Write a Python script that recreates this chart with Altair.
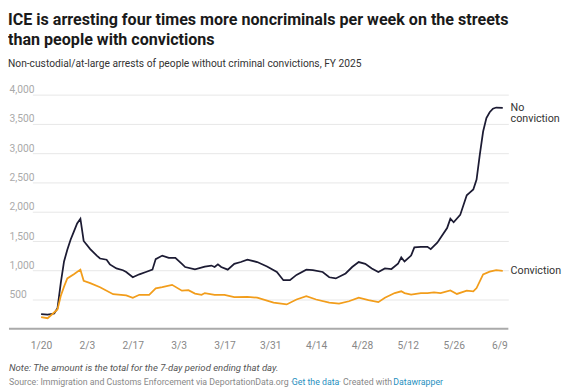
import altair as alt
import pandas as pd

# ---------------- data ----------------
no_conv_dates = [
    "01-20", "01-22", "01-24", "01-25", "01-26", "01-27", "01-28", "01-29", "01-30", "01-31",
    "02-01", "02-02", "02-04", "02-06", "02-07", "02-09", "02-10", "02-12", "02-14", "02-15",
    "02-17", "02-19", "02-21", "02-23", "02-24", "02-26", "02-28", "03-02", "03-04", "03-05",
    "03-08", "03-11", "03-13", "03-14", "03-15", "03-16", "03-18", "03-20", "03-22", "03-24",
    "03-27", "03-30", "04-02", "04-04", "04-06", "04-08", "04-11", "04-13", "04-16", "04-18",
    "04-20", "04-23", "04-25", "04-27", "04-29", "05-01", "05-03", "05-05", "05-07", "05-09",
    "05-10", "05-11", "05-13", "05-14", "05-16", "05-18", "05-19", "05-21", "05-24", "05-25",
    "05-26", "05-28", "05-30", "05-31", "06-01", "06-02", "06-03", "06-04", "06-05", "06-06",
    "06-07", "06-08", "06-10",
]
no_conv_values = [
    250, 240, 260, 350, 780, 1150, 1350, 1520, 1660, 1800,
    1880, 1500, 1360, 1250, 1200, 1180, 1100, 1030, 1000, 970,
    880, 930, 970, 1010, 1190, 1250, 1210, 1210, 1110, 1055,
    1015, 1060, 1080, 1055, 1100, 1055, 1010, 1110, 1140, 1180,
    1140, 1065, 970, 830, 830, 920, 1010, 1000, 970, 880,
    860, 945, 1055, 1140, 1110, 1030, 970, 1030, 1020, 1110,
    1220, 1150, 1250, 1390, 1400, 1400, 1360, 1470, 1720, 1880,
    1820, 1945, 2280, 2330, 2380, 2550, 2980, 3370, 3600, 3700,
    3760, 3780, 3775,
]
conv_dates = [
    "01-20", "01-22", "01-25", "01-26", "01-27", "01-28", "01-30", "02-01", "02-02", "02-04",
    "02-07", "02-11", "02-15", "02-17", "02-19", "02-22", "02-24", "02-26", "03-01", "03-04",
    "03-06", "03-08", "03-10", "03-11", "03-14", "03-17", "03-20", "03-24", "03-27", "04-01",
    "04-05", "04-08", "04-11", "04-14", "04-18", "04-21", "04-24", "04-27", "04-30", "05-03",
    "05-05", "05-08", "05-10", "05-11", "05-13", "05-16", "05-18", "05-20", "05-22", "05-25",
    "05-27", "05-30", "06-01", "06-02", "06-04", "06-06", "06-08", "06-10",
]
conv_values = [
    200, 180, 330, 560, 720, 860, 930, 1010, 820, 780,
    710, 590, 570, 530, 580, 580, 690, 710, 750, 650,
    660, 600, 580, 610, 580, 580, 540, 545, 530, 445,
    415, 500, 555, 500, 445, 430, 470, 530, 490, 455,
    530, 610, 640, 610, 585, 610, 610, 620, 610, 655,
    595, 650, 640, 695, 930, 975, 1000, 990,
]
series_names = ["No conviction", "Conviction"]
series_labels = ["No\nconviction", "Conviction"]
series_colors = ["#1c1b33", "#f29d1b"]
x_tick_dates = ["01-20", "02-03", "02-17", "03-03", "03-17", "03-31",
                "04-14", "04-28", "05-12", "05-26", "06-09"]
y_ticks = [500, 1000, 1500, 2000, 2500, 3000, 3500, 4000]

title_lines = ["ICE is arresting four times more noncriminals per week on the streets",
               "than people with convictions"]
subtitle = "Non-custodial/at-large arrests of people without criminal convictions, FY 2025"
note = "Note: The amount is the total for the 7-day period ending that day."
source_parts = ["Source: Immigration and Customs Enforcement via DeportationData.org \u00b7",
                "Get the data", "\u00b7 Created with", "Datawrapper"]

# ---------------- tables ----------------
def to_ts(md):
    return "2025-" + md + "T00:00:00"

df = pd.concat([
    pd.DataFrame({"date": [to_ts(d) for d in no_conv_dates], "value": no_conv_values,
                  "series": series_names[0]}),
    pd.DataFrame({"date": [to_ts(d) for d in conv_dates], "value": conv_values,
                  "series": series_names[1]}),
], ignore_index=True)

labels_df = pd.DataFrame({
    "date": [to_ts(no_conv_dates[-1]), to_ts(conv_dates[-1])],
    "value": [no_conv_values[-1], conv_values[-1]],
    "label": series_labels,
})
base_df = pd.DataFrame({"value": [0]})

def dt(md):
    m, d = md.split("-")
    return alt.DateTime(year=2025, month=int(m), date=int(d))

W, H = 488, 240
x_scale = alt.Scale(domain=[alt.DateTime(year=2025, month=1, date=17, hours=8),
                            alt.DateTime(year=2025, month=6, date=11, hours=17)])
y_scale = alt.Scale(domain=[0, 4000], nice=False, zero=True)

x_axis = alt.Axis(values=[dt(d) for d in x_tick_dates], format="%-m/%-d",
                  grid=False, domain=False, ticks=False, labelPadding=12,
                  labelOverlap=False, labelFlush=False,
                  labelColor="#888888", labelFontSize=10.5, labelFont="Roboto")
y_axis = alt.Axis(values=y_ticks, labelExpr="format(datum.value, ',')",
                  grid=True, gridColor="#e6e6e6",
                  domain=False, ticks=False, labelAlign="left", labelPadding=24,
                  labelBaseline="alphabetic", labelOffset=-2,
                  labelOverlap=False, labelFlush=False,
                  labelColor="#aaaaaa", labelFontSize=10.5, labelFont="Roboto")
x_enc = alt.X("date:T", scale=x_scale, title=None, axis=x_axis)
y_enc = alt.Y("value:Q", scale=y_scale, title=None, axis=y_axis)

lines = alt.Chart(df).mark_line(strokeWidth=1.8, interpolate="linear").encode(
    x=x_enc, y=y_enc,
    color=alt.Color("series:N", scale=alt.Scale(domain=series_names, range=series_colors),
                    legend=None),
)

baseline = alt.Chart(base_df).mark_rule(color="#aaaaaa", strokeWidth=2).encode(
    x=alt.value(-24), x2=alt.value(W), y=y_enc
)

end_labels = alt.Chart(labels_df).mark_text(
    align="left", baseline="alphabetic", dx=8, dy=3, lineBreak="\n",
    font="Roboto", fontSize=11, color="#333333", lineHeight=12
).encode(x=x_enc, y=y_enc, text="label:N")

FOOT = H + 40
note_layer = alt.Chart(pd.DataFrame({"t": [note]})).mark_text(
    align="left", baseline="middle", font="Roboto", fontSize=9.8, fontStyle="italic",
    color="#555555"
).encode(x=alt.value(-24), y=alt.value(FOOT), text="t:N")

src_x = [-24, 266, 314, 370]
src_colors = ["#888888", "#1f8fc0", "#888888", "#1f8fc0"]
src_layers = [
    alt.Chart(pd.DataFrame({"t": [txt]})).mark_text(
        align="left", baseline="middle", font="Roboto", fontSize=9.0, color=c
    ).encode(x=alt.value(xv), y=alt.value(FOOT + 15), text="t:N")
    for txt, xv, c in zip(source_parts, src_x, src_colors)
]

chart = alt.layer(lines, baseline, end_labels, note_layer, *src_layers).properties(
    width=W, height=H, background="white",
    padding={"left": 0, "top": 0, "right": 0, "bottom": 0},
    title=alt.TitleParams(
        text=title_lines, subtitle=subtitle, anchor="start", frame="bounds",
        font="Roboto", fontSize=16.5, fontWeight="bold", color="#1a1a1a", lineHeight=20,
        subtitleFont="Roboto", subtitleFontSize=10.5, subtitleColor="#333333",
        subtitlePadding=11, offset=16,
    ),
).configure_view(strokeWidth=0)

chart.save("out.html", embed_options={"renderer": "svg", "actions": False})
